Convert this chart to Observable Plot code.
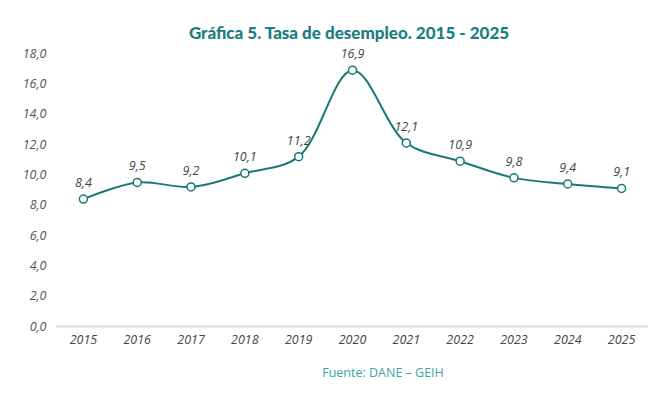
<!DOCTYPE html>
<html>
<head>
<meta charset="utf-8">
<script src="https://cdn.jsdelivr.net/npm/d3@7"></script>
<script src="https://cdn.jsdelivr.net/npm/@observablehq/plot@0.6"></script>
<style>
  body { margin: 0; background: #fff; width: 666px; height: 395px; overflow: hidden; }
  #title { height: 44px; box-sizing: border-box; padding-top: 23px; text-align: center; padding-left: 32px;
    font-family: "Lato", sans-serif; font-weight: 900; font-size: 17px; color: #1a7e80; line-height: 19px; }
  #caption { text-align: center; padding-left: 100px; font-family: "Open Sans", sans-serif; font-size: 12.5px; color: #3fa4a8; margin-top: 8px; }
  svg text { font-family: "Open Sans", sans-serif; }
</style>
</head>
<body>
<div id="title">Gráfica 5. Tasa de desempleo. 2015 - 2025</div>
<div id="chart"></div>
<div id="caption">Fuente: DANE – GEIH</div>
<script>
const years = ["2015","2016","2017","2018","2019","2020","2021","2022","2023","2024","2025"];
const rates = [8.4, 9.5, 9.2, 10.1, 11.2, 16.9, 12.1, 10.9, 9.8, 9.4, 9.1];
const yTicks = [0, 2, 4, 6, 8, 10, 12, 14, 16, 18];

const data = years.map((y, i) => ({year: y, rate: rates[i]}));
const fmt = d => d.toFixed(1).replace(".", ",");
const teal = "#1b7878";

const chart = Plot.plot({
  width: 666,
  height: 312,
  marginTop: 9,
  marginBottom: 30,
  marginLeft: 56,
  marginRight: 18,
  x: {type: "point", domain: years, padding: 0.5, round: false, label: null},
  y: {domain: [0, 18], label: null},
  marks: [
    Plot.axisX({tickSize: 0, tickPadding: 9, fontStyle: "italic", fill: "#444", fontSize: 12.5}),
    Plot.axisY({ticks: yTicks, tickFormat: fmt, tickSize: 0, tickPadding: 10, fontStyle: "italic", fill: "#555", fontSize: 12.5}),
    Plot.ruleY([0], {stroke: "#dcdcdc", strokeWidth: 2}),
    Plot.line(data, {x: "year", y: "rate", stroke: teal, strokeWidth: 2, curve: "catmull-rom"}),
    Plot.dot(data, {x: "year", y: "rate", r: 4, fill: "white", stroke: teal, strokeWidth: 1.5}),
    Plot.text(data, {x: "year", y: "rate", text: d => fmt(d.rate), dy: -16, fill: "#444", fontStyle: "italic", fontSize: 12.5})
  ]
});
document.getElementById("chart").appendChild(chart);
</script>
</body>
</html>
